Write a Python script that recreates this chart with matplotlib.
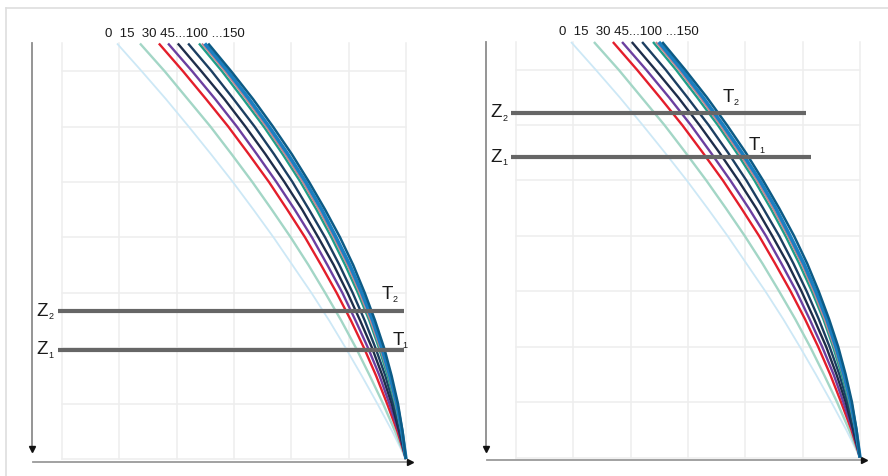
import matplotlib
matplotlib.use("Agg")
import matplotlib.pyplot as plt
from matplotlib.lines import Line2D

plt.rcParams['font.family'] = ['Liberation Sans', 'DejaVu Sans']

# ---------------- data ----------------
# depth levels (grid units, 0 = top of grid, 7.5 = bottom)
DEPTH = [0, 0.5, 1, 1.5, 2, 2.5, 3, 3.5, 4, 4.5, 5, 5.5, 6, 6.5, 7, 7.5]

# horizontal position (grid units, 0..6) of each curve at every depth level
CURVE_0   = [0.96, 1.39, 1.81, 2.21, 2.60, 2.98, 3.34, 3.69, 4.02, 4.35, 4.66, 4.95, 5.23, 5.50, 5.76, 6.00]
CURVE_15  = [1.36, 1.79, 2.19, 2.59, 2.96, 3.32, 3.66, 3.99, 4.30, 4.59, 4.87, 5.13, 5.37, 5.60, 5.81, 6.00]
CURVE_30  = [1.69, 2.11, 2.51, 2.90, 3.26, 3.61, 3.93, 4.24, 4.52, 4.79, 5.04, 5.27, 5.48, 5.67, 5.85, 6.00]
CURVE_45  = [1.85, 2.27, 2.67, 3.05, 3.40, 3.74, 4.06, 4.36, 4.63, 4.89, 5.12, 5.34, 5.54, 5.71, 5.87, 6.00]
CURVE_60  = [2.02, 2.43, 2.83, 3.20, 3.55, 3.88, 4.19, 4.47, 4.74, 4.98, 5.20, 5.41, 5.59, 5.75, 5.88, 6.00]
CURVE_80  = [2.20, 2.61, 2.99, 3.36, 3.70, 4.02, 4.31, 4.59, 4.84, 5.07, 5.28, 5.47, 5.64, 5.78, 5.90, 6.00]
CURVE_100 = [2.39, 2.79, 3.16, 3.52, 3.85, 4.16, 4.44, 4.70, 4.94, 5.16, 5.36, 5.53, 5.68, 5.81, 5.92, 6.00]
CURVE_120 = [2.44, 2.84, 3.21, 3.56, 3.89, 4.20, 4.48, 4.74, 4.98, 5.19, 5.38, 5.55, 5.70, 5.82, 5.92, 6.00]
CURVE_135 = [2.49, 2.89, 3.26, 3.61, 3.94, 4.25, 4.53, 4.78, 5.02, 5.23, 5.42, 5.58, 5.72, 5.84, 5.93, 6.00]
CURVE_150 = [2.55, 2.95, 3.33, 3.68, 4.01, 4.31, 4.59, 4.85, 5.08, 5.28, 5.46, 5.62, 5.75, 5.86, 5.94, 6.00]

CURVES = [CURVE_0, CURVE_15, CURVE_30, CURVE_45, CURVE_60, CURVE_80,
          CURVE_100, CURVE_120, CURVE_135, CURVE_150]
CURVE_COLORS = ['#cde8f6', '#a3d6c6', '#e41e2b', '#6b3fa0', '#1e2d4a',
                '#1c3f62', '#1f9e89', '#c7858f', '#1a7fc1', '#0d5b85']
CURVE_WIDTHS = [1.3, 1.7, 1.7, 1.7, 1.7, 1.7, 1.7, 1.4, 2.6, 1.8]

TOP_LABEL = "0  15  30 45...100 ...150"

# horizontal levels: (letter, sub, depth, x_start, x_end)
LEVELS_LEFT = [("Z", "2", 4.83, -0.07, 5.97), ("Z", "1", 5.53, -0.07, 5.97)]
LEVELS_RIGHT = [("Z", "2", 1.28, -0.09, 5.06), ("Z", "1", 2.08, -0.09, 5.15)]
# T labels: (letter, sub, x, depth)
T_LEFT = [("T", "2", 5.58, 4.61), ("T", "1", 5.76, 5.44)]
T_RIGHT = [("T", "2", 3.61, 1.08), ("T", "1", 4.06, 1.95)]

# ---------------- figure ----------------
W, H = 888, 476
fig = plt.figure(figsize=(W / 100, H / 100), dpi=100)

# outer frame (top and left edges)
fig.add_artist(Line2D([6 / W, 6 / W], [0, 1 - 8 / H], color='#dedede', lw=1.2))
fig.add_artist(Line2D([6 / W, 1], [1 - 8 / H, 1 - 8 / H], color='#dedede', lw=1.2))

XPX, YPX = 57.33, 55.4
TXT = '#1a1a1a'


def make_axes(ox, oy):
    x0, x1 = ox - 42, ox + 368
    y0, y1 = oy - 28.5, oy + 426.5
    ax = fig.add_axes([x0 / W, 1 - y1 / H, (x1 - x0) / W, (y1 - y0) / H])
    ax.set_xlim((x0 - ox) / XPX, (x1 - ox) / XPX)
    ax.set_ylim((y1 - oy) / YPX, (y0 - oy) / YPX)
    ax.axis('off')
    return ax


def letter_sub(ax, x, d, letter, sub, dx):
    ax.text(x, d, letter, fontsize=13.5, color=TXT, ha='left', va='baseline', zorder=6)
    ax.annotate(sub, (x, d), xytext=(dx, -2.4), textcoords='offset points',
                fontsize=6.5, color=TXT, ha='left', va='baseline', zorder=6)


def draw_panel(ax, levels, tlabels, top_d, arrow_tip_d):
    # grid
    for gx in range(7):
        ax.plot([gx, gx], [0, 7.5], color='#eeeeee', lw=1.1, zorder=1)
    for gy in [0.5, 1.5, 2.5, 3.5, 4.5, 5.5, 6.5, 7.5]:
        ax.plot([0, 6], [gy, gy], color='#eeeeee', lw=1.1, zorder=1)
    # axes arrows
    ax.plot([-0.523, -0.523], [0, arrow_tip_d - 0.08], color='#8c8c8c', lw=1.3, zorder=2)
    ax.plot([-0.523], [arrow_tip_d - 0.07], marker='v', color='#111111', ms=5, zorder=3)
    ax.plot([-0.506, 6.05], [7.55, 7.55], color='#9a9a9a', lw=1.3, zorder=2)
    ax.plot([6.07], [7.55], marker='>', color='#111111', ms=5, zorder=3)
    # curves
    for xs, c, lw in zip(CURVES, CURVE_COLORS, CURVE_WIDTHS):
        ax.plot(xs, DEPTH, color=c, lw=lw, solid_capstyle='butt', zorder=4)
    # horizontal levels
    for letter, sub, d, xa, xb in levels:
        ax.plot([xa, xb], [d, d], color='#666666', lw=3.0, solid_capstyle='butt', zorder=5)
        letter_sub(ax, -0.45, d + 0.08, letter, sub, 8.6)
    for letter, sub, x, d in tlabels:
        letter_sub(ax, x, d, letter, sub, 7.6)
    ax.text(0.75, top_d, TOP_LABEL, fontsize=9.5, color=TXT, ha='left', va='baseline')


axL = make_axes(62, 43.5)
draw_panel(axL, LEVELS_LEFT, T_LEFT, -0.117, 7.39)
axR = make_axes(516, 42)
draw_panel(axR, LEVELS_RIGHT, T_RIGHT, -0.126, 7.42)

fig.savefig('out.png', dpi=100)
